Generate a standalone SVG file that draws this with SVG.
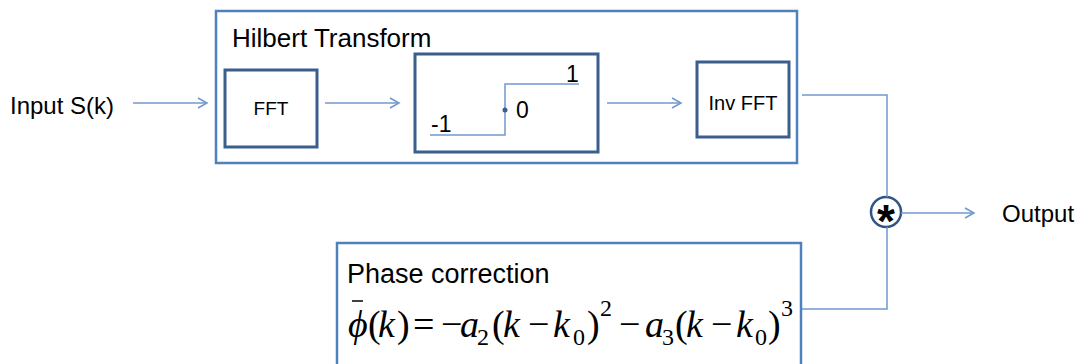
<svg xmlns="http://www.w3.org/2000/svg" width="1080" height="364" viewBox="0 0 1080 364">
<style>
.outer{fill:none;stroke:#4f81bd;stroke-width:2.5}
.inner{fill:#fff;stroke:#3b5f8d;stroke-width:3}
.conn{fill:none;stroke:#6f98d0;stroke-width:1.5}
.lbl{font-family:"Liberation Sans",Arial,sans-serif;fill:#000}
.m{font-family:"Liberation Serif","Times New Roman",serif;fill:#000;font-size:38px}
.mi{font-style:italic}
.sm{font-size:24px}
</style>
<defs>
<marker id="ah" markerUnits="userSpaceOnUse" markerWidth="12" markerHeight="12" refX="10" refY="6" orient="auto">
<path d="M1,1 L10,6 L1,11" fill="none" stroke="#6f98d0" stroke-width="1.5"/>
</marker>
</defs>
<rect width="1080" height="364" fill="#fff"/>

<g id="input">
<text class="lbl" x="10" y="114" font-size="24">Input S(k)</text>
</g>

<g id="hilbert">
<rect class="outer" x="216" y="11" width="581" height="152"/>
<text class="lbl" x="232" y="47" font-size="26">Hilbert Transform</text>
</g>

<g id="fft">
<rect class="inner" x="225" y="70" width="92" height="77"/>
<text class="lbl" x="271" y="115" font-size="19" text-anchor="middle">FFT</text>
</g>

<g id="sign">
<rect class="inner" x="415" y="54" width="183" height="98"/>
<path d="M430,135 H505 V84 H579" fill="none" stroke="#6f98d0" stroke-width="1.5"/>
<circle cx="505" cy="110" r="2.5" fill="#3b5f8d"/>
<text class="lbl" x="431" y="132" font-size="23">-1</text>
<text class="lbl" x="516" y="118" font-size="23">0</text>
<text class="lbl" x="566" y="82" font-size="23">1</text>
</g>

<g id="invfft">
<rect class="inner" x="697" y="62" width="92" height="75"/>
<text class="lbl" x="743" y="110" font-size="20" text-anchor="middle">Inv FFT</text>
</g>

<g id="mult">
<circle cx="886" cy="212" r="15" fill="#fff" stroke="#2f5584" stroke-width="2.5"/>
<text x="886" y="237" font-family="Liberation Sans,Arial,sans-serif" font-weight="bold" font-size="46" text-anchor="middle" fill="#000">*</text>
</g>

<g id="output">
<text class="lbl" x="1002" y="222" font-size="24">Output</text>
</g>

<g id="phase">
<rect class="outer" x="337" y="243" width="464" height="140"/>
<text class="lbl" x="347" y="283" font-size="27">Phase correction</text>
<line x1="352" y1="301" x2="363" y2="301" stroke="#000" stroke-width="1.5"/>
<text class="m mi" x="348" y="337">ϕ</text>
<text class="m" x="368" y="337">(</text>
<text class="m mi" x="378" y="337">k</text>
<text class="m" x="397" y="337">)</text>
<text class="m" x="413" y="337">=</text>
<text class="m" x="441" y="337">−</text>
<text class="m mi" x="460" y="337">a</text>
<text class="m sm" x="477" y="345">2</text>
<text class="m" x="492" y="337">(</text>
<text class="m mi" x="503" y="337">k</text>
<text class="m" x="528" y="337">−</text>
<text class="m mi" x="553" y="337">k</text>
<text class="m sm" x="573" y="345">0</text>
<text class="m" x="587" y="337">)</text>
<text class="m sm" x="600" y="316">2</text>
<text class="m" x="619" y="337">−</text>
<text class="m mi" x="645" y="337">a</text>
<text class="m sm" x="662" y="345">3</text>
<text class="m" x="675" y="337">(</text>
<text class="m mi" x="686" y="337">k</text>
<text class="m" x="711" y="337">−</text>
<text class="m mi" x="736" y="337">k</text>
<text class="m sm" x="755" y="345">0</text>
<text class="m" x="768" y="337">)</text>
<text class="m sm" x="781" y="316">3</text>
</g>

<g id="connectors">
<line class="conn" x1="133" y1="103" x2="207" y2="103" marker-end="url(#ah)"/>
<line class="conn" x1="325" y1="103" x2="399" y2="103" marker-end="url(#ah)"/>
<line class="conn" x1="607" y1="103" x2="681" y2="103" marker-end="url(#ah)"/>
<path class="conn" d="M802,95 H887 V197"/>
<path class="conn" d="M802,309 H887 V227"/>
<line class="conn" x1="901" y1="213" x2="974" y2="213" marker-end="url(#ah)"/>
</g>
</svg>
